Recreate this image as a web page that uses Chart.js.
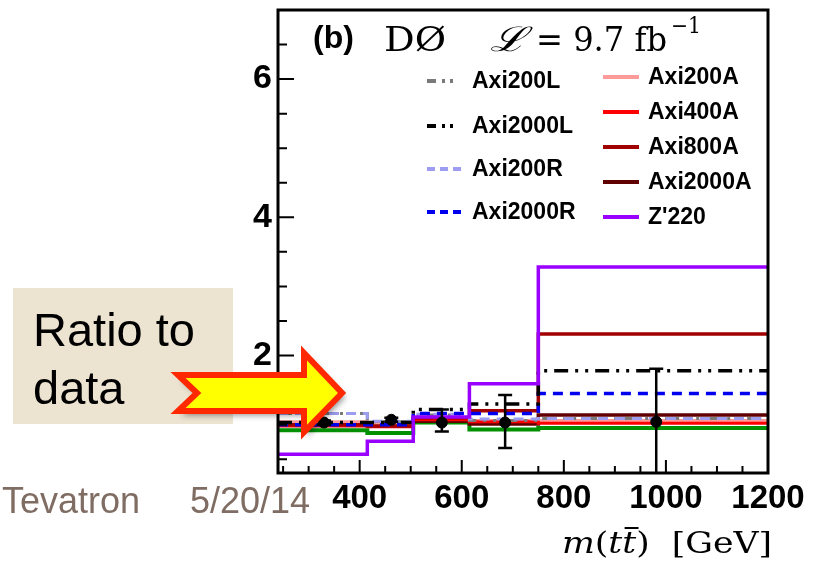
<!DOCTYPE html>
<html>
<head>
<meta charset="utf-8">
<script src="https://cdn.jsdelivr.net/npm/chart.js@4.4.1/dist/chart.umd.min.js"></script>
<style>
body{margin:0;background:#fff;}
</style>
</head>
<body>
<canvas id="ratio" width="820" height="563"></canvas>
<script>
// m(tt) bin edges in GeV
var binEdges = [240, 415, 505, 615, 750, 1200];
// model / data ratio per bin
var axi200L  = [1.16, 1.04, 1.14, 1.06, 1.09];
var axi2000L = [1.03, 1.03, 1.22, 1.30, 1.78];
var axi200R  = [1.16, 1.05, 1.15, 1.08, 1.09];
var axi2000R = [1.00, 1.00, 1.16, 1.16, 1.45];
var axi200A  = [1.04, 1.01, 1.09, 1.06, 1.06];
var axi400A  = [0.98, 0.97, 1.07, 1.04, 1.02];
var axi800A  = [1.00, 0.98, 1.10, 1.20, 2.31];
var axi2000A = [1.02, 1.02, 1.05, 1.01, 1.14];
var zp220    = [0.57, 0.76, 1.11, 1.59, 3.28];
var smPred   = [0.92, 0.88, 1.03, 0.93, 0.95];
// data points
var dataX    = [330, 462, 561, 685, 981];
var dataY    = [1.03, 1.07, 1.03, 1.03, 1.04];
var dataLow  = [1.00, 1.04, 0.90, 0.66, 0.10];
var dataHigh = [1.06, 1.10, 1.22, 1.43, 1.81];
var xTicks = [400, 600, 800, 1000, 1200];
var yTicks = [2, 4, 6];

var SANS = '"Liberation Sans", Arial, sans-serif';
var SERIF = '"DejaVu Serif", "Liberation Serif", serif';

function steps(vals){
    var pts = [];
    for(var i = 0; i < vals.length; i++){
        pts.push({x: binEdges[i], y: vals[i]});
    }
    pts.push({x: binEdges[vals.length], y: vals[vals.length - 1]});
    return pts;
}
function hist(label, vals, color, width, dash, order){
    return {
        label: label, data: steps(vals), borderColor: color, borderWidth: width,
        borderDash: dash, stepped: 'before', pointRadius: 0, fill: false, order: order
    };
}

var dashLL = [14, 7, 3, 7, 3, 7];
var dashR = [10, 7];

var datasets = [
    {label: 'Data', type: 'scatter', data: dataX.map(function(x, i){ return {x: x, y: dataY[i]}; }),
     pointRadius: 5.5, pointBackgroundColor: '#000', pointBorderColor: '#000', order: 0},
    hist('Axi2000L', axi2000L, '#000000', 3.5, dashLL, 2),
    hist('Axi2000R', axi2000R, '#0000ee', 3.5, dashR, 3),
    hist('Axi200L', axi200L, '#7a7a7a', 3, dashLL, 5),
    hist('Axi200R', axi200R, '#9c9cf0', 3, dashR, 4),
    hist('Axi200A', axi200A, '#ff9a9a', 3, [], 8),
    hist('Axi400A', axi400A, '#ff0000', 3, [], 7),
    hist('Axi800A', axi800A, '#a00000', 3.5, [], 6),
    hist('Axi2000A', axi2000A, '#600000', 3.5, [], 9),
    hist("Z'220", zp220, '#9900ff', 3.5, [], 1),
    hist('SM', smPred, '#009000', 4, [], 10)
];

function findSet(chart, label){
    var ds = chart.data.datasets;
    for(var i = 0; i < ds.length; i++){
        if(ds[i].label === label) return ds[i];
    }
}
function fitText(ctx, text, x, y, w){
    var m = ctx.measureText(text).width;
    ctx.save();
    ctx.translate(x, y);
    ctx.scale(w / m, 1);
    ctx.fillText(text, 0, 0);
    ctx.restore();
}

var framePlugin = {
    id: 'frame',
    beforeDraw: function(chart){
        var ctx = chart.ctx;
        ctx.save();
        ctx.fillStyle = '#fff';
        ctx.fillRect(0, 0, chart.width, chart.height);
        ctx.restore();
    },
    afterDatasetsDraw: function(chart){
        var ctx = chart.ctx, a = chart.chartArea;
        var xs = chart.scales.x, ys = chart.scales.y;
        ctx.save();
        // error bars
        ctx.beginPath();
        ctx.rect(a.left, a.top, a.right - a.left, a.bottom - a.top);
        ctx.clip();
        ctx.strokeStyle = '#000';
        ctx.lineWidth = 2.5;
        for(var i = 0; i < dataX.length; i++){
            var px = xs.getPixelForValue(dataX[i]);
            var lo = ys.getPixelForValue(dataLow[i]), hi = ys.getPixelForValue(dataHigh[i]);
            ctx.beginPath();
            ctx.moveTo(px, lo); ctx.lineTo(px, hi);
            ctx.moveTo(px - 7, lo); ctx.lineTo(px + 7, lo);
            ctx.moveTo(px - 7, hi); ctx.lineTo(px + 7, hi);
            ctx.stroke();
        }
        ctx.restore();
        ctx.save();
        ctx.strokeStyle = '#000';
        ctx.lineWidth = 2;
        ctx.beginPath();
        // inward ticks, left axis
        for(var v = 0.5; v < 7; v += 0.5){
            var py = ys.getPixelForValue(v);
            var len = (v % 2 === 0) ? 16 : 9;
            ctx.moveTo(a.left, py); ctx.lineTo(a.left + len, py);
        }
        // inward ticks, bottom axis
        for(var g = 250; g < 1200; g += 50){
            var gx = xs.getPixelForValue(g);
            var l2 = (g % 200 === 0) ? 13 : 7;
            ctx.moveTo(gx, a.bottom); ctx.lineTo(gx, a.bottom - l2);
        }
        ctx.stroke();
        ctx.lineWidth = 3;
        ctx.strokeRect(a.left, a.top, a.right - a.left, a.bottom - a.top);
        ctx.restore();
    },
    afterDraw: function(chart){
        var ctx = chart.ctx;
        ctx.save();
        // legend
        var col1 = ['Axi200L', 'Axi2000L', 'Axi200R', 'Axi2000R'];
        var row1 = [81, 126, 169, 212];
        var col2 = ['Axi200A', 'Axi400A', 'Axi800A', 'Axi2000A', "Z'220"];
        var row2 = [77, 112, 147, 182, 217];
        ctx.font = 'bold 23px ' + SANS;
        ctx.textBaseline = 'middle';
        ctx.fillStyle = '#000';
        function entry(label, x, y){
            var ds = findSet(chart, label);
            ctx.save();
            ctx.strokeStyle = ds.borderColor;
            ctx.lineWidth = 4;
            ctx.setLineDash(ds.borderDash && ds.borderDash.length ? [9, 6, 3, 5, 3, 20] : []);
            if(ds.borderDash === dashR) ctx.setLineDash([8, 5]);
            ctx.beginPath();
            ctx.moveTo(x, y); ctx.lineTo(x + 36, y);
            ctx.stroke();
            ctx.restore();
            ctx.fillText(label, x + 45, y + 1);
        }
        col1.forEach(function(l, i){ entry(l, 427, row1[i]); });
        col2.forEach(function(l, i){ entry(l, 603, row2[i]); });

        // header
        ctx.textBaseline = 'alphabetic';
        ctx.font = 'bold 32px ' + SANS;
        ctx.fillText('(b)', 313, 48);
        ctx.font = '34px ' + SERIF;
        fitText(ctx, 'D\u00d8', 384, 51, 62);
        ctx.font = 'italic 34px ' + SERIF;
        fitText(ctx, '\u2112', 490, 51, 36);
        ctx.font = '34px ' + SERIF;
        fitText(ctx, '= 9.7 fb', 536, 51, 131);
        ctx.font = '22px ' + SERIF;
        fitText(ctx, '\u22121', 671, 33, 30);

        // x title m(tt) [GeV]
        var parts = [
            {t: 'm', f: 'italic 30px ' + SERIF},
            {t: '(', f: '30px ' + SERIF},
            {t: 't', f: 'italic 30px ' + SERIF},
            {t: 't', f: 'italic 30px ' + SERIF, bar: true},
            {t: ')', f: '30px ' + SERIF},
            {t: '  [GeV]', f: '30px ' + SERIF}
        ];
        var total = 0;
        parts.forEach(function(p){ ctx.font = p.f; p.w = ctx.measureText(p.t).width; total += p.w; });
        ctx.save();
        ctx.translate(562, 553);
        ctx.scale(210 / total, 1);
        var cx = 0;
        parts.forEach(function(p){
            ctx.font = p.f;
            ctx.fillText(p.t, cx, 0);
            if(p.bar){
                ctx.fillRect(cx + 2, -26, p.w, 2);
            }
            cx += p.w;
        });
        ctx.restore();

        // slide annotations
        ctx.fillStyle = '#ede3d1';
        ctx.fillRect(13, 288, 220, 136);
        ctx.fillStyle = '#000';
        ctx.font = '47px ' + SANS;
        ctx.fillText('Ratio to', 33, 346);
        ctx.fillText('data', 33, 404);

        ctx.fillStyle = '#7f6c62';
        ctx.font = '36px ' + SANS;
        ctx.fillText('Tevatron', 2, 513);
        ctx.fillText('5/20/14', 190, 513);

        // arrow
        ctx.save();
        ctx.shadowColor = 'rgba(0,0,0,0.45)';
        ctx.shadowBlur = 6;
        ctx.shadowOffsetX = 3;
        ctx.shadowOffsetY = 4;
        ctx.beginPath();
        ctx.moveTo(178, 375);
        ctx.lineTo(304, 375);
        ctx.lineTo(304, 353);
        ctx.lineTo(342, 393);
        ctx.lineTo(304, 432);
        ctx.lineTo(304, 411);
        ctx.lineTo(178, 411);
        ctx.lineTo(197, 393);
        ctx.closePath();
        ctx.fillStyle = '#ffff00';
        ctx.fill();
        ctx.shadowColor = 'transparent';
        ctx.lineJoin = 'miter';
        ctx.lineWidth = 6;
        ctx.strokeStyle = '#ff2800';
        ctx.stroke();
        ctx.restore();

        ctx.restore();
    }
};

new Chart(document.getElementById('ratio'), {
    type: 'line',
    data: {datasets: datasets},
    options: {
        responsive: false,
        animation: false,
        layout: {padding: {left: 238, right: 52, top: 10, bottom: 50}},
        plugins: {legend: {display: false}, tooltip: {enabled: false}},
        scales: {
            x: {
                type: 'linear', min: 240, max: 1200,
                grid: {display: false, drawTicks: false},
                border: {display: false},
                ticks: {
                    color: '#000', padding: 6, maxRotation: 0, minRotation: 0, autoSkip: false,
                    font: {family: SANS, size: 33, weight: 'bold'},
                    callback: function(v){ return String(v); }
                },
                afterBuildTicks: function(s){ s.ticks = xTicks.map(function(v){ return {value: v}; }); },
                afterFit: function(s){ s.height = 40; s.paddingLeft = 0; s.paddingRight = 0; }
            },
            y: {
                min: 0.3, max: 7,
                grid: {display: false, drawTicks: false},
                border: {display: false},
                ticks: {
                    color: '#000', padding: 6,
                    font: {family: SANS, size: 34, weight: 'bold'},
                    callback: function(v){ return String(v); }
                },
                afterBuildTicks: function(s){ s.ticks = yTicks.map(function(v){ return {value: v}; }); },
                afterFit: function(s){ s.width = 40; s.paddingTop = 0; s.paddingBottom = 0; }
            }
        }
    },
    plugins: [framePlugin]
});
</script>
</body>
</html>
